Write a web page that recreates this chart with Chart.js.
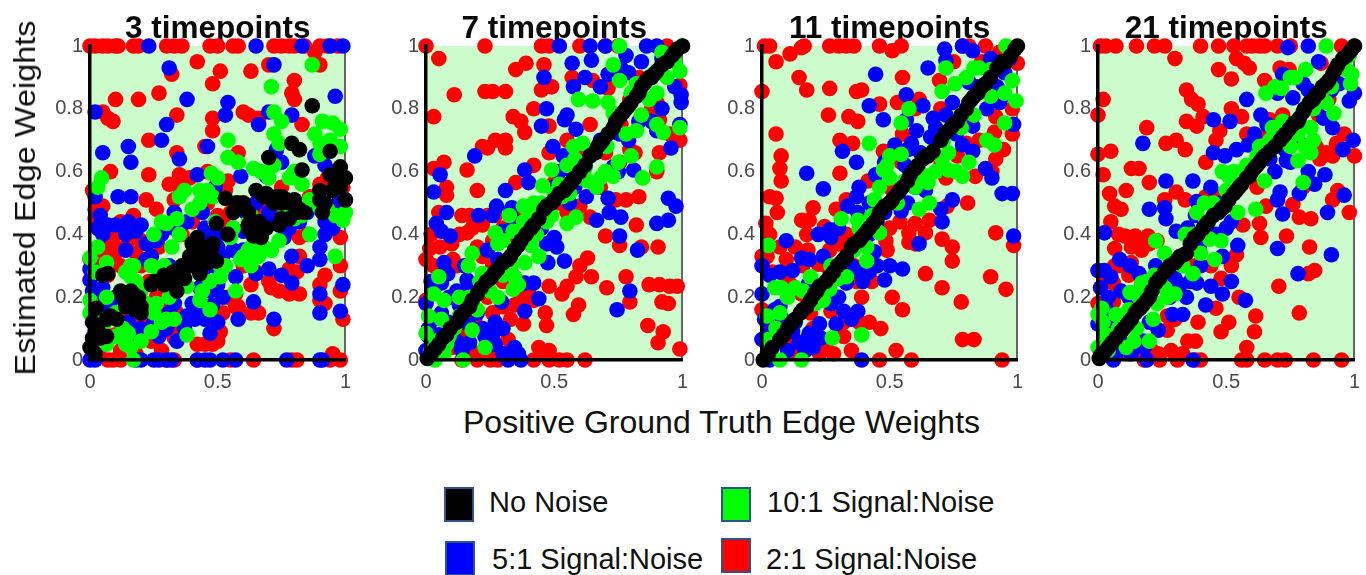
<!DOCTYPE html>
<html><head><meta charset="utf-8">
<script src="https://cdn.jsdelivr.net/npm/chart.js@4"></script>
<style>
html,body{margin:0;padding:0;background:#fff;width:1366px;height:575px;overflow:hidden;position:relative;font-family:"Liberation Sans",Arial,sans-serif;color:#111}
canvas{position:absolute;top:0;filter:blur(0.5px)}
.t{position:absolute;white-space:nowrap;font-size:29px;line-height:32px}
.s{position:absolute;width:26px;height:31px;border:2px solid #2f528f}
</style></head><body>
<canvas id="c0"></canvas><canvas id="c1"></canvas><canvas id="c2"></canvas><canvas id="c3"></canvas>
<div class="t" id="yl" style="left:25px;top:198px;transform:translate(-50%,-50%) rotate(-90deg) scaleX(1.12)">Estimated Edge Weights</div>
<div class="t" style="left:463px;top:406px;font-size:32px">Positive Ground Truth Edge Weights</div>
<div class="s" style="left:444px;top:487px;background:#000"></div><div class="t" style="left:489px;top:486px">No Noise</div>
<div class="s" style="left:721px;top:487px;background:#00ff00"></div><div class="t" style="left:767px;top:486px">10:1 Signal:Noise</div>
<div class="s" style="left:445px;top:541px;background:#0000ff"></div><div class="t" style="left:492px;top:543px">5:1 Signal:Noise</div>
<div class="s" style="left:721px;top:538px;background:#ff0000"></div><div class="t" style="left:766px;top:543px">2:1 Signal:Noise</div>
<script>
const panelTitles=["3 timepoints","7 timepoints","11 timepoints","21 timepoints"];
const xTickValues=[0,0.5,1];
const yTickValues=[0,0.2,0.4,0.6,0.8,1];
const seriesNames=["No Noise","10:1 Signal:Noise","5:1 Signal:Noise","2:1 Signal:Noise"];
const seriesColors=["#000000","#00ff00","#0000ff","#ff0000"];

const red3=[[0,1],[.02,1],[.05,1],[.07,1],[.1,1],[.11,1],[.17,1],[.19,1],[.3,1],[.33,1],[.36,1],[.47,1],[.5,1],[.56,1],[.58,1],[.72,1],[.75,1],[.78,1],[.8,1],[.84,1],[.9,1],[.93,1],[.97,1],[.07,0],[.09,0],[.12,0],[.3,0],[.33,0],[.42,0],[.55,0],[.64,0],[.79,0],[.81,0],[.94,0],[.95,.02],[.98,0],[.42,.95],[.51,.92],[.48,.88],[.63,.92],[.7,.94],[.9,.94],[.8,.89],[.79,.85],[.8,.83],[.32,.91],[.27,.85],[.1,.83],[.19,.83],[.05,.79],[.07,.77],[.09,.76],[.34,.78],[.48,.77],[.48,.73],[.6,.79],[.62,.78],[.66,.77],[.83,.75],[.23,.7],[.34,.66],[.45,.68],[.58,.66],[.08,.6],[.23,.59],[.46,.6],[.35,.55],[.31,.56],[.35,.59],[.39,.58],[.54,.57],[.53,.54],[.01,.54],[.22,.51],[.26,.48],[.33,.51],[.44,.49],[.02,.48],[.05,.49],[.02,.45],[.17,.46],[.17,.42],[.52,.44],[.2,.38],[.27,.36],[.06,.37],[.1,.36],[.08,.33],[.04,.3],[.12,.3],[.16,.42],[.56,.42],[.95,.42],[.98,.39],[.82,.39],[.92,.27],[.98,.3],[.81,.28],[.78,.29],[.9,.24],[.71,.23],[.74,.22],[.78,.21],[.82,.21],[.57,.21],[.63,.24],[.9,.19],[.98,.22],[.92,.18],[.58,.17],[.63,.15],[.66,.15],[.72,.1],[.51,.09],[.42,.05],[.45,.05],[.48,.05],[.5,.06],[.99,.13],[.33,.07],[.26,.2],[.27,.17],[.05,.1],[.02,.2],[.28,.03],[.07,.27],[.1,.34],[.44,.24],[.57,.17],[.88,.98],[.75,.55],[.93,.58],
[0,.32],[.03,.42],[.04,.35],[.09,.39],[.12,.44],[.15,.38],[.18,.34],[.2,.3],[.23,.25],[.3,.42],[.36,.4],[.4,.44],[.46,.5],[.5,.46],[.55,.47],[.6,.5],[.68,.48],[.74,.47],[.8,.5],[.86,.52],[.9,.56],[.96,.6],[.99,.55],[.6,.3],[.65,.28],[.7,.25],[.3,.2],[.34,.15],[.37,.12],[.32,.1],[.2,.12],[.14,.16],[.1,.08],[.04,.04],[.12,.03],[.18,.02],[.24,.06],[.47,.13],[.52,.15],[.54,.2],[.82,.33],[.85,.4]];
const blue3=[[.23,1],[.65,1],[.83,1],[.94,1],[.99,1],[0,0],[.02,0],[.2,0],[.25,0],[.3,0],[.32,0],[.42,0],[.45,0],[.47,0],[.52,0],[.57,0],[.77,0],[.9,0],[.91,0],[.18,0],[.27,0],[.31,.93],[.72,.94],[.38,.83],[.96,.84],[.02,.79],[.54,.82],[.53,.78],[.3,.75],[.66,.75],[.79,.78],[.7,.79],[.28,.7],[.15,.68],[.16,.63],[.05,.66],[.35,.64],[.46,.68],[.73,.67],[.75,.63],[.42,.59],[.59,.585],[.69,.585],[.88,.65],[.11,.52],[.16,.52],[.02,.52],[.49,.55],[.33,.47],[.44,.47],[.61,.47],[.07,.43],[.04,.46],[.14,.4],[.14,.35],[.22,.32],[.26,.38],[.47,.39],[.76,.39],[.54,.4],[.92,.4],[.9,.36],[.9,.32],[.79,.33],[.85,.3],[.7,.29],[.75,.27],[.79,.245],[0,.29],[0,.255],[.99,.24],[.9,.21],[.9,.15],[.98,.155],[.64,.185],[.72,.13],[.58,.13],[.48,.175],[.43,.23],[.4,.18],[.41,.13],[.37,.1],[.47,.085],[.34,.06],[.27,.075],[.18,.065],[.31,.15],[.57,.265],[.65,.275],[.03,.18],[.02,.095],[.065,.075],[.31,.3],[.5,.36],[.2,.43],[.6,.41],[.73,.44],
[.03,.42],[.05,.4],[.1,.43],[.15,.44],[.18,.41],[.22,.37],[.24,.33],[.28,.4],[.33,.42],[.38,.44],[.45,.42],[.5,.4],[.52,.33],[.56,.35],[.6,.35],[.48,.3],[.44,.28],[.5,.24],[.47,.22],[.52,.2],[.42,.17],[.45,.13],[.5,.12],[.3,.1],[.25,.12],[.2,.1],[.15,.12],[.08,.16],[.1,.2],[.05,.23],[.01,.22],[.02,.14],[.33,.18],[.38,.14],[.65,.5],[.7,.47],[.78,.42],[.82,.44],[.68,.44],[.75,.43],[.85,.47],[.92,.44],[.95,.42],[.97,.5],[.92,.62],[.96,.6]];
const green3=[[.87,.94],[.71,.87],[.72,.79],[.75,.76],[.72,.72],[.91,.76],[.95,.755],[.98,.735],[.9,.69],[.9,.655],[.54,.7],[.54,.645],[.58,.63],[.64,.61],[.475,.595],[.045,.58],[.03,.55],[.37,.54],[.43,.54],[.48,.52],[.69,.53],[.78,.58],[.83,.56],[.34,.45],[.3,.435],[.25,.4],[.49,.44],[1,.47],[.99,.445],[.9,.485],[.83,.46],[0,.325],[.17,.3],[.16,.265],[.065,.2],[.065,.31],[0,.19],[0,.15],[.96,.33],[.71,.35],[.66,.33],[.62,.35],[.59,.32],[.57,.22],[.51,.265],[.38,.235],[.43,.19],[.47,.16],[.31,.2],[.25,.15],[.22,.18],[.38,.08],[.15,.085],[.1,.075],[.16,.04],[.065,.05],[.17,0],[.86,.51],[.76,.49],[.35,.52],[.62,.44],[.27,.28],[.2,.22],
[.03,.36],[.02,.28],[.03,.12],[.02,.08],[.06,.12],[.1,.15],[.13,.1],[.14,.05],[.2,.06],[.24,.09],[.28,.12],[.3,.13],[.33,.13],[.26,.18],[.29,.3],[.35,.4],[.32,.36],[.28,.44],[.24,.3],[.16,.3],[.18,.25],[.14,.28],[.44,.22],[.47,.25],[.51,.3],[.53,.3],[.6,.33],[.63,.3],[.64,.37],[.68,.36],[.56,.42],[.55,.39],[.74,.38],[.8,.45],[.86,.4],[.93,.48],[.96,.46],[.67,.6],[.7,.58],[.72,.62],[.8,.6],[.74,.69],[.88,.72],[.94,.7],[.98,.68],[.4,.48],[.43,.5],[.46,.54],[.5,.58],[.58,.5],[.63,.46],[.42,.35]];
const black3=[[.87,.81],[.79,.69],[.82,.67],[.94,.665],[.7,.645],[.83,.605],[.98,.615],[.94,.59],[.99,.575],[1,.58],[.95,.54],[1,.51],[.9,.54],[.91,.47],[.65,.54],[.69,.53],[.73,.52],[.77,.51],[.72,.5],[.57,.5],[.53,.515],[.6,.485],[.82,.48],[.78,.45],[.74,.43],[.69,.42],[.65,.415],[.625,.415],[.64,.395],[.54,.4],[.495,.435],[.42,.39],[.475,.355],[.495,.315],[.39,.33],[.42,.31],[.43,.275],[.325,.28],[.29,.27],[.25,.25],[.34,.22],[.07,.275],[.05,.27],[.17,.21],[.13,.2],[.175,.16],[.025,.165],[.065,.13],[.105,.13],[.01,.12],[.065,.075],[0,.04],[.02,.02],[.24,.24],[.15,.18],[.2,.17],[.36,.3],[.46,.33],[.4,.37],
[.14,.17],[.16,.19],[.18,.17],[.19,.2],[.16,.22],[.12,.22],[.2,.15],[.27,.25],[.29,.24],[.31,.27],[.33,.25],[.35,.27],[.37,.26],[.38,.3],[.4,.3],[.41,.34],[.44,.33],[.46,.31],[.44,.36],[.48,.37],[.56,.47],[.58,.5],[.6,.5],[.62,.47],[.62,.43],[.66,.44],[.67,.39],[.68,.52],[.7,.52],[.75,.52],[.75,.5],[.78,.5],[.8,.51],[.84,.47],[.81,.47],[.75,.45],[.96,.56],[.98,.55],[.9,.51],[.92,.5],[.08,.14],[.03,.1],[.01,.07],[.04,.07]];

const red7=[[0,1],[.23,1],[.45,1],[.48,1],[.6,1],[.7,1],[.75,1],[.94,1],[.05,.96],[.11,.845],[.23,.855],[.26,.855],[.31,.855],[.35,.925],[.39,.945],[.46,.94],[.45,.86],[.49,.87],[.57,.9],[.65,.89],[.71,.865],[.42,.8],[.03,.775],[.34,.775],[.37,.76],[.385,.725],[.48,.745],[.64,.75],[.22,.68],[.24,.675],[.27,.7],[.31,.7],[.31,.675],[.48,.66],[.42,.62],[.07,.63],[.03,.61],[.16,.605],[.2,.54],[.08,.525],[.08,.55],[.35,.565],[.5,.565],[.05,.47],[.14,.46],[.17,.46],[.24,.46],[.27,.46],[.33,.47],[.16,.405],[.015,.355],[.055,.36],[0,.32],[.105,.32],[.2,.36],[.22,.33],[.7,.395],[.755,.365],[.84,.36],[.905,.36],[.82,.43],[.78,.51],[.83,.52],[.64,.455],[.6,.49],[.74,.51],[.63,.325],[.6,.3],[.645,.265],[.585,.265],[.55,.235],[.48,.235],[.53,.21],[.705,.23],[.78,.265],[.795,.185],[.87,.24],[.91,.24],[.95,.235],[.98,.235],[.92,.185],[.945,.18],[.595,.175],[.575,.145],[.465,.15],[.47,.11],[.865,.11],[.925,.09],[.905,.055],[.99,.035],[.44,.04],[.48,.03],[.32,.065],[.42,.19],[.38,.185],[.345,.175],[.38,.115],[.26,.15],[0,.19],[.03,.245],[.14,0],[.2,0],[.25,0],[.28,0],[.42,0],[.48,0],[.52,0],[.55,0],[.62,0],[.3,.02],[.45,.02],[.795,.67],[.815,.66],[.755,.63],[.795,.83],[.9,.82],[.91,.765],[.99,.7],[.91,.66],[.99,.875],
[.02,.4],[.03,.3],[.06,.28],[.1,.37],[.13,.4],[.18,.42],[.22,.43],[.26,.38],[.3,.42],[.33,.4],[.37,.45],[.26,.3],[.3,.25],[.33,.28],[.37,.2],[.4,.22],[.3,.17],[.33,.13],[.24,.2],[.19,.13],[.14,.08],[.1,.04],[.17,.03],[.2,.02],[.27,.04],[.12,.3],[.16,.22],[.52,.5],[.55,.47],[.58,.6],[.6,.65],[.55,.7],[.68,.55],[.72,.6],[.7,.66],[.76,.75],[.83,.9],[.88,.8],[.95,.72],[.9,.6]];
const blue7=[[.52,1],[.64,1],[.7,1],[.78,.97],[.86,1],[.9,1],[.57,.945],[.645,.955],[.46,.9],[.575,.87],[.79,.915],[.71,.91],[.995,.845],[.995,.82],[.47,.8],[.54,.765],[.585,.735],[.45,.745],[.755,.72],[.9,.73],[.99,.75],[.955,.675],[.19,.65],[.495,.68],[.535,.65],[.385,.605],[.055,.59],[.03,.535],[.31,.54],[.4,.565],[.625,.52],[.71,.515],[.81,.605],[.73,.615],[.665,.445],[.715,.47],[.76,.455],[.755,.395],[.825,.35],[.9,.435],[.945,.445],[.945,.515],[.975,.49],[.08,.47],[.04,.435],[.06,.41],[.095,.395],[.275,.49],[.26,.46],[.205,.46],[.335,.485],[.34,.445],[.44,.46],[.47,.37],[.51,.36],[.475,.31],[.54,.315],[.07,.31],[.085,.275],[.06,.245],[0,.18],[.16,.255],[.18,.235],[.145,.21],[.235,.23],[.385,.245],[.42,.245],[.44,.195],[.295,.185],[.385,.155],[.06,.15],[.13,.175],[.27,.12],[.795,.22],[.745,.16],[.01,.075],[.12,.06],[.23,.075],[.17,.055],[.345,.04],[.32,0],[.37,0],[0,.03],
[.02,.25],[.03,.13],[.01,.1],[.05,.08],[.09,.12],[.09,.2],[.12,.22],[.15,.3],[.2,.15],[.17,.11],[.22,.1],[.26,.08],[.3,.1],[.27,.05],[.3,.02],[.36,.02],[.14,.03],[.24,.35],[.28,.32],[.3,.41],[.36,.4],[.39,.42],[.42,.4],[.45,.42],[.5,.39],[.57,.6],[.62,.62],[.65,.66],[.68,.7],[.75,.6],[.79,.7],[.83,.76],[.88,.76],[.92,.8],[.97,.87],[.92,.96],[.84,.95],[.76,.93],[.68,.87],[.62,.9],[.52,.6],[.5,.55],[.56,.5],[.58,.55],[.55,.78]];
const green7=[[.755,1],[1,1],[.99,.92],[.73,.94],[.885,.91],[.82,.88],[.755,.89],[.595,.83],[.65,.825],[.71,.82],[.73,.785],[.9,.75],[.925,.725],[.99,.74],[.82,.73],[.575,.68],[.61,.69],[.705,.68],[.75,.63],[.9,.615],[.845,.58],[.73,.585],[.665,.55],[.49,.605],[.455,.555],[.56,.53],[.585,.455],[.55,.435],[.49,.46],[.38,.49],[.325,.46],[.27,.405],[.28,.37],[.18,.34],[.165,.3],[.22,.275],[.41,.365],[.44,.33],[.385,.31],[.345,.265],[.34,.225],[.05,.265],[.03,.21],[.07,.19],[.01,.14],[.09,.075],[.18,.095],[.23,.04],[0,.085],[.035,0],[.145,0],[.07,.02],[.13,.14],[.2,.16],[.52,.56],[.62,.61],
[.06,.13],[.04,.06],[.02,.03],[.08,.05],[.11,.1],[.13,.2],[.17,.2],[.21,.25],[.25,.22],[.28,.2],[.3,.27],[.33,.3],[.36,.24],[.3,.38],[.34,.41],[.38,.44],[.4,.47],[.43,.4],[.47,.44],[.42,.5],[.45,.5],[.5,.53],[.53,.52],[.55,.62],[.58,.64],[.6,.58],[.63,.57],[.68,.58],[.7,.6],[.8,.65],[.78,.72],[.84,.78],[.87,.83],[.9,.85],[.94,.9],[.97,.95],[.92,.98],[.8,.85]];
const black7=[[.005,.005],[.02,.02],[.035,.035],[.05,.05],[.065,.07],[.12,.12],[.135,.14],[.17,.17],[.18,.19],[.2,.21],[.215,.23],[.26,.27],[.27,.28],[.28,.29],[.33,.33],[.345,.35],[.37,.38],[.39,.4],[.41,.42],[.42,.43],[.47,.49],[.49,.5],[.54,.54],[.56,.56],[.58,.58],[.6,.6],[.66,.66],[.69,.7],[.71,.72],[.74,.76],[.76,.78],[.78,.8],[.8,.82],[.82,.84],[.85,.88],[.87,.9],[.89,.91],[.92,.94],[.96,.97],[.98,.99],[1,1],
[.08,.08],[.095,.1],[.15,.155],[.235,.25],[.25,.26],[.3,.31],[.32,.32],[.36,.365],[.44,.45],[.46,.48],[.5,.51],[.52,.53],[.55,.55],[.57,.57],[.62,.62],[.64,.65],[.67,.68],[.68,.69],[.73,.74],[.75,.77],[.77,.79],[.79,.81],[.83,.85],[.84,.87],[.86,.89],[.88,.9],[.9,.92],[.94,.95],[.97,.98]];

const red11=[[.01,1],[.03,1],[.055,.95],[.11,.975],[.155,.995],[.165,1],[.265,1],[.3,1],[.33,1],[.36,1],[.46,1],[.51,.985],[.545,1],[.785,1],[.81,1],[.875,1],[1,.945],[.145,.9],[.175,.86],[0,.855],[.265,.865],[.37,.855],[.39,.86],[.55,.9],[.615,.83],[.53,.82],[.46,.815],[.695,.89],[.26,.78],[.34,.775],[.375,.76],[.055,.72],[.305,.7],[.355,.69],[.075,.65],[.07,.61],[.075,.57],[.305,.595],[.415,.57],[.475,.665],[.545,.63],[.03,.52],[.055,.515],[.06,.47],[.015,.435],[.33,.51],[.29,.48],[.2,.485],[.155,.445],[.185,.445],[.245,.425],[0,.33],[.07,.36],[.175,.4],[.18,.35],[.095,.32],[.265,.35],[.22,.305],[.485,.38],[.49,.35],[.575,.405],[.575,.375],[.64,.405],[.655,.445],[.6,.435],[.705,.385],[.745,.36],[.745,.315],[.805,.5],[.725,.49],[.64,.275],[.705,.23],[.78,.185],[.895,.265],[.955,.225],[.915,.405],[.985,.365],[.785,.065],[.83,.065],[.94,0],[.51,.2],[.55,.16],[.39,.2],[.27,.155],[.42,.12],[.465,.1],[.525,.03],[.46,0],[.585,0],[.35,.03],[.225,.02],[.28,.02],[.32,.075],[.835,.585],[.72,.58],[.915,.64],[.945,.67],[.91,.725],[.98,.72],[.915,.775],[.765,.65],[.8,.69],[0,.16],[.155,.21],[.12,.235],[.3,.3],[.37,.25],[.03,.4],[.13,.06],[.2,.1],[.25,.05],
[.02,.33],[.04,.28],[.1,.26],[.13,.36],[.16,.3],[.02,.12],[.05,.07],[.1,.04],[.14,.02],[.19,.15],[.22,.2],[.25,.3],[.3,.37],[.33,.4],[.36,.3],[.4,.27],[.43,.25],[.38,.12],[.32,.12],[.5,.42],[.54,.44],[.6,.37],[.5,.55],[.55,.72],[.7,.62],[.85,.7],[.9,.6],[.86,.95],[.93,.98],[.75,.95],[.98,.8],[.6,.8],[.7,.8]];
const blue11=[[.715,.99],[.72,.955],[.785,1],[.825,.985],[.65,.93],[.445,.91],[.895,.96],[.95,.915],[.81,.885],[.565,.845],[.42,.81],[.475,.765],[.63,.81],[.745,.82],[.67,.77],[.94,.84],[.985,.75],[.605,.73],[.565,.765],[.52,.685],[.315,.665],[.37,.63],[.175,.595],[.24,.545],[.585,.69],[.825,.745],[.785,.685],[.825,.665],[.875,.61],[.9,.58],[.94,.53],[.98,.53],[.985,.395],[.38,.55],[.445,.59],[.64,.54],[.745,.51],[.7,.48],[.705,.44],[.615,.37],[.545,.475],[.335,.49],[.375,.47],[.265,.415],[.22,.4],[.095,.38],[.155,.325],[.07,.28],[.12,.285],[.185,.32],[0,.3],[.44,.345],[.5,.3],[.55,.29],[.48,.255],[.395,.25],[.33,.245],[0,.21],[.05,.16],[.07,.17],[.375,.155],[.32,.155],[.29,.115],[.225,.115],[.185,.085],[.145,.055],[.175,.065],[.025,.04],[.39,0],[.03,0],[0,.065],[.93,.82],[.57,.67],
[.03,.27],[.01,.13],[.02,.08],[.06,.1],[.08,.13],[.12,.09],[.1,.03],[.13,.12],[.17,.03],[.2,.04],[.23,.07],[.27,.18],[.3,.2],[.35,.13],[.35,.3],[.38,.28],[.42,.28],[.45,.3],[.42,.4],[.45,.44],[.48,.47],[.52,.52],[.57,.5],[.6,.55],[.56,.62],[.48,.63],[.62,.66],[.66,.71],[.68,.74],[.72,.78],[.76,.72],[.84,.87],[.88,.8],[.92,.87],[.97,.96],[.18,.24],[.24,.33],[.27,.39],[.3,.42],[.37,.52],[.42,.5]];
const green11=[[.955,1],[.83,.93],[.895,.925],[.98,.89],[.755,.88],[.705,.855],[.895,.84],[.995,.825],[.95,.755],[.575,.8],[.545,.755],[.91,.685],[.42,.69],[.545,.655],[.475,.605],[.5,.58],[.44,.51],[.65,.565],[.705,.64],[.73,.605],[.785,.585],[.81,.63],[.655,.5],[.615,.48],[.375,.445],[.31,.45],[.19,.265],[.41,.315],[.33,.265],[.265,.225],[.24,.19],[.025,.365],[.05,.23],[.075,.23],[.13,.23],[.055,.1],[.025,.065],[.275,.07],[.39,.08],[.07,0],[.155,0],[.46,.405],[.6,.55],[.5,.65],
[.02,.14],[.04,.06],[.07,.15],[.02,.02],[.1,.2],[.16,.22],[.21,.18],[.27,.3],[.3,.26],[.36,.35],[.41,.36],[.43,.46],[.38,.42],[.46,.55],[.49,.62],[.53,.5],[.56,.57],[.59,.56],[.63,.59],[.68,.6],[.71,.7],[.73,.66],[.76,.6],[.78,.74],[.8,.9],[.85,.93],[.72,.93],[.83,.78],[.88,.7],[.95,.85],[.98,.98],[.44,.43]];
const black11=[[.005,0],[.025,.02],[.07,.065],[.1,.1],[.13,.13],[.15,.15],[.175,.17],[.19,.19],[.225,.235],[.25,.25],[.265,.265],[.28,.28],[.31,.31],[.33,.33],[.35,.36],[.38,.38],[.39,.39],[.41,.41],[.435,.435],[.46,.47],[.48,.49],[.51,.51],[.54,.54],[.57,.57],[.6,.61],[.63,.64],[.65,.65],[.67,.665],[.72,.725],[.74,.74],[.765,.76],[.81,.82],[.83,.84],[.845,.85],[.895,.9],[.955,.95],[.975,.97],[1,1],
[.04,.04],[.085,.08],[.115,.115],[.16,.16],[.205,.21],[.215,.22],[.295,.3],[.32,.32],[.36,.37],[.4,.4],[.42,.42],[.45,.45],[.47,.48],[.5,.5],[.53,.53],[.55,.55],[.58,.59],[.61,.62],[.64,.65],[.7,.7],[.75,.75],[.78,.78],[.8,.8],[.82,.83],[.86,.87],[.875,.88],[.92,.93],[.94,.95],[.99,.99]];

const red21=[[.01,1],[.03,1],[.07,1],[.15,1],[.22,1],[.26,1],[.4,1],[.47,1],[.53,1],[.58,1],[.6,1],[.63,1],[.65,1],[.7,1],[.75,1],[.95,1],[.3,.96],[.54,.96],[.57,.945],[.59,.93],[.47,.925],[.52,.895],[.71,.93],[.745,.925],[.65,.89],[.87,.945],[.345,.86],[.365,.83],[.39,.815],[.02,.83],[0,.78],[.41,.775],[.345,.76],[.385,.745],[.19,.74],[.56,.775],[.475,.73],[.58,.72],[.67,.765],[.265,.69],[.305,.7],[.34,.67],[.05,.665],[0,.655],[.02,.59],[.13,.61],[.16,.61],[.2,.565],[.11,.54],[.045,.53],[.305,.535],[.34,.51],[.065,.49],[.09,.48],[.05,.44],[.26,.51],[.105,.395],[.065,.355],[.145,.395],[.195,.395],[.155,.365],[.435,.525],[.475,.52],[.655,.49],[.76,.495],[.785,.455],[.83,.45],[.98,.47],[.63,.435],[.635,.39],[.565,.43],[.735,.395],[.825,.36],[.54,.335],[.845,.285],[.82,.275],[.705,.235],[.785,.15],[.55,.2],[.46,.165],[.39,.12],[.51,.12],[.48,.09],[.615,.14],[.61,.09],[.58,.04],[.35,.06],[.27,.095],[.285,.03],[.235,.02],[.065,.3],[.06,.245],[.06,.185],[0,.18],[.915,.65],[.89,.66],[.93,.69],[1,.65],[.865,.64],[.935,.54],[.915,.51],[.9,.83],[.38,0],[.24,0],[.31,0],[.56,0],[.58,0],[.65,0],[.7,0],[.73,0],[.84,0],[.95,0],[.4,0],[.18,0],[.42,.52],[.13,.31],[.38,.3],
[.03,.25],[.02,.12],[.04,.08],[.02,.04],[.08,.3],[.12,.27],[.17,.24],[.2,.2],[.13,.36],[.17,.35],[.2,.37],[.23,.38],[.08,.4],[.27,.14],[.3,.13],[.38,.06],[.33,.02],[.15,.04],[.21,.03],[.12,.02],[.44,.3],[.48,.26],[.52,.3],[.66,.72],[.72,.78],[.75,.68],[.86,.78],[.96,.72],[.85,.68],[.42,.63],[.46,.7],[.52,.8],[.62,.55],[.8,.55],[.95,.95]];
const blue21=[[.74,.995],[.82,1],[.72,.91],[.76,.835],[.82,.86],[.91,.86],[.98,.825],[1,.85],[.58,.83],[.45,.765],[.515,.76],[.635,.78],[.995,.7],[.915,.74],[.175,.69],[.45,.66],[.495,.65],[.54,.67],[.585,.685],[.735,.635],[.265,.57],[.37,.57],[.955,.67],[.82,.6],[.845,.56],[.885,.59],[.785,.53],[.71,.535],[.7,.51],[.96,.525],[.895,.47],[.72,.465],[.2,.48],[.26,.485],[.265,.45],[.385,.505],[.305,.41],[.395,.36],[.485,.33],[.545,.365],[.7,.355],[.91,.335],[.78,.275],[.025,.405],[0,.285],[.025,.285],[.085,.32],[.125,.3],[.05,.265],[.16,.275],[.225,.3],[.385,.245],[.44,.235],[.52,.25],[.485,.21],[.42,.175],[.345,.2],[.575,.19],[.29,.145],[.33,.145],[.235,.095],[.175,.06],[0,.115],[.03,.17],[.06,0],[.19,0],[.37,0],[.005,.04],[.66,.75],[.73,.67],[.12,.2],[.1,.13],
[.01,.23],[.04,.2],[.06,.14],[.03,.1],[.09,.22],[.13,.15],[.16,.19],[.2,.12],[.18,.04],[.1,.05],[.07,.02],[.13,.02],[.28,.2],[.32,.24],[.36,.25],[.3,.26],[.26,.23],[.4,.3],[.35,.42],[.38,.46],[.42,.42],[.46,.4],[.5,.42],[.52,.44],[.58,.6],[.62,.62],[.67,.64],[.61,.72],[.66,.75],[.69,.6],[.75,.63],[.78,.7],[.75,.75],[.85,.8],[.88,.77],[.94,.88],[.86,.95],[.8,.88],[.7,.85],[.44,.55],[.48,.5]];
const green21=[[.89,1],[1,1],[.81,.925],[.77,.9],[.715,.865],[.655,.85],[.97,.925],[.985,.88],[.99,.91],[.89,.82],[.92,.785],[.83,.74],[.84,.7],[.805,.68],[.67,.7],[.63,.68],[.78,.635],[.8,.565],[.485,.6],[.51,.585],[.65,.57],[.615,.48],[.545,.47],[.415,.5],[.385,.47],[.34,.4],[.225,.38],[.26,.34],[.435,.385],[.48,.38],[.455,.32],[.37,.275],[.27,.2],[.17,.245],[.125,.215],[.07,.145],[0,.145],[.015,.165],[.215,.13],[.15,.1],[0,.04],[.04,.03],[.11,.04],[.22,.27],[.56,.6],
[.02,.12],[.03,.08],[.08,.1],[.12,.16],[.14,.06],[.2,.06],[.16,.2],[.19,.25],[.23,.18],[.26,.23],[.3,.21],[.33,.3],[.29,.31],[.4,.34],[.37,.4],[.42,.44],[.45,.5],[.5,.54],[.53,.6],[.58,.62],[.62,.65],[.68,.74],[.72,.76],[.75,.68],[.78,.72],[.84,.8],[.87,.85],[.91,.87],[.95,.93],[.98,.97],[.69,.87],[.75,.9],[.83,.66]];
const black21=[[.005,.005],[.025,.025],[.07,.07],[.09,.09],[.115,.115],[.155,.16],[.165,.165],[.175,.175],[.225,.245],[.24,.26],[.26,.28],[.28,.3],[.3,.31],[.32,.33],[.345,.34],[.375,.39],[.41,.42],[.43,.44],[.45,.46],[.495,.49],[.51,.51],[.54,.54],[.56,.56],[.59,.585],[.61,.61],[.63,.63],[.65,.65],[.67,.665],[.71,.7],[.73,.72],[.745,.735],[.765,.755],[.785,.77],[.805,.8],[.825,.82],[.85,.845],[.875,.87],[.915,.91],[.935,.94],[.955,.96],[.98,.98],[1,1],
[.04,.04],[.055,.055],[.1,.1],[.13,.13],[.145,.15],[.19,.19],[.21,.22],[.27,.29],[.31,.32],[.335,.335],[.36,.37],[.39,.4],[.42,.43],[.47,.47],[.48,.48],[.53,.53],[.55,.55],[.58,.58],[.6,.6],[.62,.62],[.64,.64],[.69,.68],[.72,.71],[.76,.75],[.78,.76],[.8,.79],[.84,.83],[.86,.85],[.89,.88],[.9,.89],[.925,.925],[.97,.97],[.99,.99],[.01,.015],[.2,.2]];

const panelSeries=[[black3,green3,blue3,red3],[black7,green7,blue7,red7],[black11,green11,blue11,red11],[black21,green21,blue21,red21]];
const plotLeft=[90,426,762,1098];
const plotWidth=[256,257,256,257];
const axisW=85,rightPad=15;

const plotBg={id:'plotBg',beforeDraw(c){const a=c.chartArea,g=c.ctx;g.save();g.fillStyle='#ccfbcc';g.fillRect(a.left,a.top,a.width,a.height);g.restore();}};

panelTitles.forEach((title,i)=>{
  const el=document.getElementById('c'+i);
  const w=axisW+plotWidth[i]+rightPad;
  el.width=w;el.height=400;el.style.width=w+'px';el.style.height='400px';el.style.left=(plotLeft[i]-axisW)+'px';
  new Chart(el,{type:'scatter',plugins:[plotBg],
    data:{datasets:panelSeries[i].map((pts,k)=>({label:seriesNames[k],data:pts.map(p=>({x:p[0],y:p[1]})),backgroundColor:seriesColors[k],borderWidth:0,pointRadius:7.8,pointHoverRadius:7.8,clip:false}))},
    options:{responsive:false,animation:false,events:[],
      layout:{autoPadding:false,padding:{right:rightPad,left:0,top:0,bottom:0}},
      plugins:{legend:{display:false},tooltip:{enabled:false},
        title:{display:true,text:title,fullSize:false,color:'#0a0a0a',font:{family:'"Liberation Sans"',size:31.5,weight:'bold',lineHeight:1.02},padding:{top:13.4,bottom:0.5}}},
      scales:{
        x:{type:'linear',min:0,max:1,afterBuildTicks:a=>{a.ticks=xTickValues.map(v=>({value:v}));},afterFit:a=>{a.height=40;},
           ticks:{color:'#4a4a4a',font:{family:'"Liberation Sans"',size:20},maxRotation:0,autoSkip:false,padding:10,callback:v=>String(v)},
           grid:{drawTicks:false,lineWidth:2,color:c=>c.tick&&c.tick.value===1?'#666':'transparent'},
           border:{display:true,color:'#000',width:3.5,z:1}},
        y:{type:'linear',min:0,max:1,afterBuildTicks:a=>{a.ticks=yTickValues.map(v=>({value:v}));},afterFit:a=>{a.width=axisW;},
           ticks:{color:'#4a4a4a',font:{family:'"Liberation Sans"',size:20},autoSkip:false,padding:7,callback:v=>String(v)},
           grid:{display:false,drawTicks:false},
           border:{display:true,color:'#000',width:3.5,z:1}}
      }}});
});
</script></body></html>
